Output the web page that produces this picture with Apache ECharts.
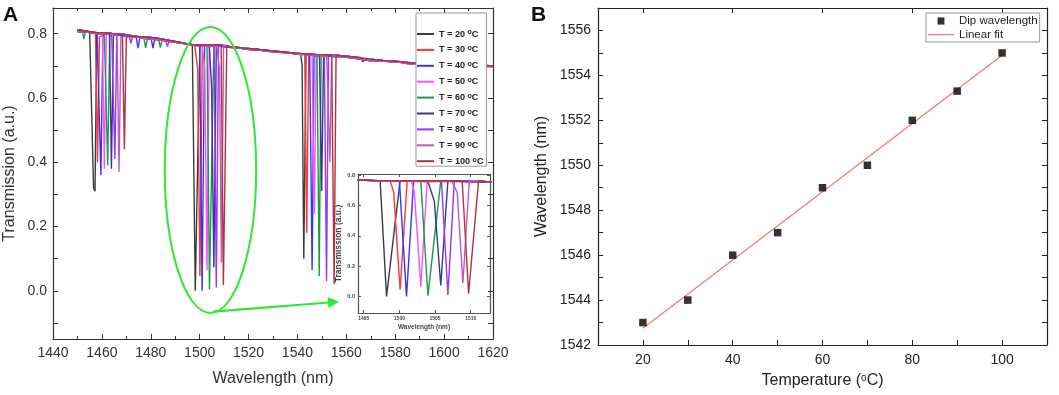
<!DOCTYPE html>
<html><head><meta charset="utf-8">
<script src="https://cdn.jsdelivr.net/npm/echarts@6/dist/echarts.min.js"></script>
<style>html,body{margin:0;padding:0;background:#fff}#c{width:1059px;height:395px}</style>
</head><body><div id="c"></div>
<script>
// ---------------- DATA ----------------
const temps = [20, 30, 40, 50, 60, 70, 80, 90, 100];

// Baseline of the transmission spectra [wavelength nm, transmission]
const baselineA = [[1450,0.812],[1452,0.810],[1455,0.806],[1458,0.803],[1461,0.803],[1464,0.801],[1467,0.800],[1470,0.797],[1473,0.793],[1476,0.790],[1479,0.789],[1482,0.787],[1485,0.783],[1488,0.778],[1491,0.774],[1494,0.770],[1497,0.766],[1500,0.764],[1503,0.766],[1506,0.765],[1509,0.764],[1512,0.760],[1515,0.758],[1518,0.755],[1521,0.753],[1524,0.751],[1527,0.749],[1530,0.746],[1533,0.744],[1536,0.742],[1539,0.739],[1542,0.738],[1545,0.737],[1548,0.735],[1551,0.734],[1554,0.733],[1557,0.732],[1560,0.730],[1563,0.728],[1566,0.724],[1569,0.721],[1572,0.719],[1575,0.717],[1578,0.716],[1581,0.714],[1584,0.711],[1587,0.709],[1590,0.707],[1593,0.706],[1596,0.705],[1599,0.705],[1602,0.704],[1605,0.703],[1608,0.703],[1611,0.702],[1614,0.702],[1617,0.701],[1620,0.700]];
const baselineB = [[1450,0.806],[1453,0.805],[1456,0.803],[1459,0.800],[1462,0.800],[1465,0.797],[1468,0.794],[1471,0.792],[1474,0.790],[1477,0.786],[1480,0.783],[1483,0.781],[1486,0.778],[1489,0.775],[1492,0.771],[1495,0.768],[1498,0.763],[1501,0.762],[1504,0.760],[1507,0.762],[1510,0.759],[1513,0.757],[1516,0.755],[1519,0.752],[1522,0.749],[1525,0.748],[1528,0.745],[1531,0.743],[1534,0.741],[1537,0.740],[1540,0.736],[1543,0.735],[1546,0.733],[1549,0.731],[1552,0.731],[1555,0.729],[1558,0.728],[1561,0.726],[1564,0.723],[1567,0.719],[1570,0.716],[1573,0.716],[1576,0.714],[1579,0.712],[1582,0.711],[1585,0.707],[1588,0.705],[1591,0.704],[1594,0.702],[1597,0.703],[1600,0.701],[1603,0.700],[1606,0.700],[1609,0.699],[1612,0.699],[1615,0.698],[1618,0.698],[1620,0.698]];

// Dips of each temperature: groups of [wavelength, transmission]
const dipsT20  = [[[1455.4,0.800],[1456.6,0.320],[1457.2,0.310],[1457.9,0.790]], [[1497.3,0.765],[1498.2,0.000],[1500.1,0.765]], [[1541.3,0.738],[1541.9,0.700],[1542.6,0.100],[1543.5,0.736]], [[1566.0,0.726],[1566.8,0.712],[1567.6,0.724]]];
const dipsT30  = [[[1457.4,0.800],[1458.2,0.400],[1459.0,0.790]], [[1498.7,0.765],[1499.2,0.690],[1500.1,0.045],[1501.1,0.765]], [[1543.0,0.737],[1543.8,0.180],[1544.6,0.736]]];
const dipsT40  = [[[1458.8,0.800],[1459.6,0.360],[1460.4,0.790]], [[1474.0,0.790],[1474.8,0.755],[1475.6,0.789]], [[1480.1,0.788],[1480.9,0.755],[1481.7,0.787]], [[1500.1,0.765],[1501.0,0.000],[1502.0,0.765]], [[1545.2,0.736],[1546.0,0.065],[1546.8,0.735]]];
const dipsT50  = [[[1460.2,0.800],[1461.0,0.380],[1461.8,0.790]], [[1501.7,0.765],[1502.1,0.690],[1503.0,0.065],[1503.9,0.765]], [[1546.1,0.736],[1546.9,0.240],[1547.7,0.735]]];
const dipsT60  = [[[1452.0,0.810],[1452.6,0.783],[1453.3,0.808]], [[1461.6,0.800],[1462.4,0.390],[1463.2,0.790]], [[1477.1,0.789],[1477.9,0.756],[1478.7,0.788]], [[1483.1,0.786],[1483.9,0.757],[1484.7,0.784]], [[1503.1,0.765],[1504.0,0.005],[1505.8,0.765]], [[1548.1,0.735],[1548.9,0.045],[1549.7,0.735]]];
const dipsT70  = [[[1463.1,0.800],[1463.9,0.380],[1464.7,0.790]], [[1504.1,0.765],[1504.9,0.630],[1505.8,0.073],[1506.8,0.765]], [[1549.1,0.735],[1549.9,0.310],[1550.7,0.734]]];
const dipsT80  = [[[1464.5,0.800],[1465.3,0.410],[1466.1,0.790]], [[1471.2,0.795],[1471.9,0.770],[1472.6,0.793]], [[1486.0,0.781],[1486.8,0.760],[1487.6,0.780]], [[1505.9,0.765],[1506.8,0.010],[1507.7,0.765]], [[1551.1,0.734],[1551.9,0.030],[1552.7,0.734]]];
const dipsT90  = [[[1466.2,0.800],[1467.0,0.370],[1467.8,0.790]], [[1507.3,0.765],[1508.1,0.690],[1508.9,0.088],[1509.8,0.765]], [[1552.5,0.734],[1553.3,0.400],[1554.0,0.733]]];
const dipsT100 = [[[1468.4,0.800],[1469.2,0.440],[1470.0,0.790]], [[1508.8,0.765],[1509.7,0.018],[1511.1,0.765]], [[1554.2,0.733],[1555.0,0.020],[1555.8,0.733]]];

// Panel B
const tempB = [20, 30, 40, 50, 60, 70, 80, 90, 100];
const dipWavelength = [1543, 1544, 1546, 1547, 1549, 1550, 1552, 1553.3, 1555];
const fitTemp = [20, 100];
const fitWavelength = [1542.75, 1554.9];

// Tick values
const yTickA = [-0.1, 0, 0.1, 0.2, 0.3, 0.4, 0.5, 0.6, 0.7, 0.8];
const yLabelA = [0, 0.2, 0.4, 0.6, 0.8];
const xLabelInset = [1495, 1500, 1505, 1510];
const yLabelInset = [0, 0.2, 0.4, 0.6, 0.8];
const xLabelB = [20, 40, 60, 80, 100];
const xTickB = [20, 30, 40, 50, 60, 70, 80, 90, 100];
const yLabelB = [1542, 1544, 1546, 1548, 1550, 1552, 1554, 1556];
const yTickB = [1542, 1543, 1544, 1545, 1546, 1547, 1548, 1549, 1550, 1551, 1552, 1553, 1554, 1555, 1556, 1557];

// Annotation (green ellipse + arrow) in data units of panel A
const ellipseCenter = [1504.4, 0.376];
const ellipseRadii = [18.7, 0.445];
const arrowFrom = [1505.5, -0.065];
const arrowTo = [1557.0, -0.034];

// ---------------- STYLE ----------------
const colors = ['#3c3c3c', '#ff3434', '#3434ff', '#ff4dff', '#1a9a4a', '#38388e', '#9b32ff', '#c058c0', '#b2323e'];
const font = 'Liberation Sans, Arial, Helvetica, sans-serif';
const allDips = [dipsT20, dipsT30, dipsT40, dipsT50, dipsT60, dipsT70, dipsT80, dipsT90, dipsT100];

function buildSpectrum(baseline, groups) {
  const ranges = groups.map(g => [g[0][0], g[g.length - 1][0]]);
  const pts = baseline.filter(p => !ranges.some(r => p[0] >= r[0] && p[0] <= r[1])).map(p => p.slice());
  groups.forEach(g => g.forEach(p => pts.push(p.slice())));
  pts.sort((a, b) => a[0] - b[0]);
  return pts;
}
const names = temps.map(t => 'T = ' + t + ' °C');
const spectra = temps.map((t, i) => buildSpectrum(i % 2 === 0 ? baselineA : baselineB, allDips[i]));

const plain = v => String(v);
const f1 = v => Number(v).toFixed(1);

function axisBase(opts) {
  const lineColor = opts.lineColor || '#222';
  return {
    type: 'value', gridIndex: opts.grid, position: opts.position, min: opts.min, max: opts.max,
    interval: opts.interval,
    splitLine: { show: false },
    axisLine: { show: true, onZero: false, lineStyle: { color: lineColor, width: 1.2 } },
    axisTick: Object.assign({ show: true, inside: true, length: opts.tickLen || 5, lineStyle: { color: lineColor, width: 1 } },
      opts.tickValues ? { customValues: opts.tickValues } : {}),
    minorTick: opts.minor ? { show: true, splitNumber: 2, length: 3, lineStyle: { color: lineColor } } : { show: false },
    axisLabel: opts.noLabel ? { show: false } : Object.assign({
      show: true, fontFamily: font, fontSize: opts.fontSize || 14, color: opts.labelColor || '#222',
      margin: opts.margin, fontWeight: opts.labelWeight || 'normal', formatter: opts.formatter || plain
    }, opts.labelValues ? { customValues: opts.labelValues } : {}),
    name: opts.name, nameLocation: 'middle', nameGap: opts.nameGap,
    nameTextStyle: opts.nameStyle
  };
}

// legend icons: horizontal line (A), square and line (B) inside fixed boxes
const iconLineA = 'path://M0,0 M17,10 M0,4 L17,4 L17,6 L0,6 Z';
const iconSquareB = 'path://M0,0 M26,8 M9.6,0.4 L16.4,0.4 L16.4,7.6 L9.6,7.6 Z';
const iconLineB = 'path://M0,0 M26,8 M0,3.4 L26,3.4 L26,4.6 L0,4.6 Z';

const option = {
  animation: false,
  backgroundColor: '#fff',
  title: [
    { text: 'A', left: 3, top: 5, padding: 0, textStyle: { fontFamily: font, fontSize: 21, fontWeight: 'bold', color: '#111' } },
    { text: 'B', left: 531, top: 5, padding: 0, textStyle: { fontFamily: font, fontSize: 21, fontWeight: 'bold', color: '#111' } }
  ],
  grid: [
    { left: 53, top: 8, width: 440, height: 331, containLabel: false },
    { left: 358, top: 174, width: 132, height: 139, containLabel: false, show: true, backgroundColor: '#fff', borderWidth: 0 },
    { left: 598, top: 8, width: 449, height: 337, containLabel: false }
  ],
  xAxis: [
    axisBase({ grid: 0, position: 'bottom', min: 1440, max: 1620, interval: 20, minor: true, lineColor: '#333', labelColor: '#333', margin: 7,
      name: 'Wavelength (nm)', nameGap: 32, nameStyle: { fontFamily: font, fontSize: 16, color: '#333' } }),
    axisBase({ grid: 0, position: 'top', min: 1440, max: 1620, interval: 20, minor: true, lineColor: '#333', noLabel: true }),
    axisBase({ grid: 1, position: 'bottom', min: 1494.2, max: 1512.7, tickValues: xLabelInset, labelValues: xLabelInset, tickLen: 3, fontSize: 5, labelWeight: 'bold', labelColor: '#444', lineColor: '#555', margin: 3,
      name: 'Wavelength (nm)', nameGap: 11, nameStyle: { fontFamily: font, fontSize: 6.5, fontWeight: 'bold', color: '#444' } }),
    axisBase({ grid: 1, position: 'top', min: 1494.2, max: 1512.7, tickValues: xLabelInset, tickLen: 3, lineColor: '#555', noLabel: true }),
    axisBase({ grid: 2, position: 'bottom', min: 10, max: 110, tickValues: xTickB, labelValues: xLabelB, margin: 8,
      name: 'Temperature ({s|o}C)', nameGap: 28, nameStyle: { fontFamily: font, fontSize: 16, color: '#222', rich: { s: { fontFamily: font, fontSize: 10, verticalAlign: 'top', color: '#222' } } } }),
    axisBase({ grid: 2, position: 'top', min: 10, max: 110, tickValues: xLabelB, noLabel: true })
  ],
  yAxis: [
    axisBase({ grid: 0, position: 'left', min: -0.15, max: 0.88, tickValues: yTickA, labelValues: yLabelA, formatter: f1, lineColor: '#333', labelColor: '#333', margin: 6,
      name: 'Transmission (a.u.)', nameGap: 35, nameStyle: { fontFamily: font, fontSize: 16, color: '#333' } }),
    axisBase({ grid: 0, position: 'right', min: -0.15, max: 0.88, tickValues: yTickA, lineColor: '#333', noLabel: true }),
    axisBase({ grid: 1, position: 'left', min: -0.11, max: 0.81, tickValues: yLabelInset, labelValues: yLabelInset, formatter: f1, tickLen: 3, fontSize: 5.5, labelWeight: 'bold', labelColor: '#444', lineColor: '#555', margin: 3,
      name: 'Transmission (a.u.)', nameGap: 10, nameStyle: { fontFamily: font, fontSize: 8.5, fontWeight: 'bold', color: '#444' } }),
    axisBase({ grid: 1, position: 'right', min: -0.11, max: 0.81, tickValues: yLabelInset, tickLen: 3, lineColor: '#555', noLabel: true }),
    axisBase({ grid: 2, position: 'left', min: 1542, max: 1557, tickValues: yTickB, labelValues: yLabelB, margin: 7,
      name: 'Wavelength (nm)', nameGap: 48, nameStyle: { fontFamily: font, fontSize: 16, color: '#222' } }),
    axisBase({ grid: 2, position: 'right', min: 1542, max: 1557, tickValues: yTickB, noLabel: true })
  ],
  legend: [
    {
      data: names.map(n => ({ name: n, icon: iconLineA })), orient: 'vertical', left: 416, top: 13, itemWidth: 17, itemHeight: 10, itemGap: 5.9,
      padding: [16, 3, 0, 1], backgroundColor: '#fff', borderColor: '#999', borderWidth: 1, borderRadius: 0,
      formatter: n => n.replace('°', '{s|o}'),
      textStyle: { fontFamily: font, fontSize: 9.1, fontWeight: 'bold', color: '#222', lineHeight: 10,
        rich: { s: { fontFamily: font, fontSize: 7, fontWeight: 'bold', verticalAlign: 'top', color: '#222' } } }
    },
    {
      data: [{ name: 'Dip wavelength', icon: iconSquareB }, { name: 'Linear fit', icon: iconLineB }], orient: 'vertical', left: 926, top: 13, itemWidth: 26, itemHeight: 8, itemGap: 1.6,
      padding: [2, 2, 1.4, 2], backgroundColor: '#fff', borderColor: '#999', borderWidth: 1, borderRadius: 0,
      textStyle: { fontFamily: font, fontSize: 11.5, color: '#222', lineHeight: 12 }
    }
  ],
  series: []
};

spectra.forEach((d, i) => {
  option.series.push({ name: names[i], type: 'line', xAxisIndex: 0, yAxisIndex: 0, data: d, symbol: 'none', showSymbol: false,
    lineStyle: { color: colors[i], width: 1.4 }, itemStyle: { color: colors[i] }, z: 2 });
});
spectra.forEach((d, i) => {
  option.series.push({ name: names[i], type: 'line', xAxisIndex: 2, yAxisIndex: 2, data: d, symbol: 'none', showSymbol: false,
    lineStyle: { color: colors[i], width: 1.4 }, itemStyle: { color: colors[i] }, clip: true, z: 6 });
});
option.series.push({ name: 'Dip wavelength', type: 'scatter', xAxisIndex: 4, yAxisIndex: 4,
  data: tempB.map((t, i) => [t, dipWavelength[i]]), symbol: 'rect', symbolSize: 7.5, itemStyle: { color: '#000' }, z: 4 });
option.series.push({ name: 'Linear fit', type: 'line', xAxisIndex: 4, yAxisIndex: 4,
  data: fitTemp.map((t, i) => [t, fitWavelength[i]]), symbol: 'none', showSymbol: false,
  lineStyle: { color: '#f37575', width: 1.2 }, itemStyle: { color: '#f37575' }, z: 3 });

const chart = echarts.init(document.getElementById('c'), null, { renderer: 'canvas' });
chart.setOption(option);

// annotation placed from data coordinates
const toPx = p => chart.convertToPixel({ xAxisIndex: 0, yAxisIndex: 0 }, p);
const c = toPx(ellipseCenter);
const e = toPx([ellipseCenter[0] + ellipseRadii[0], ellipseCenter[1] + ellipseRadii[1]]);
const rx = e[0] - c[0], ry = c[1] - e[1];
const a0 = toPx(arrowFrom), a1 = toPx(arrowTo);
const dx = a1[0] - a0[0], dy = a1[1] - a0[1], L = Math.hypot(dx, dy);
const ux = dx / L, uy = dy / L, head = 11, hw = 5.5;
const base = [a1[0] - ux * head, a1[1] - uy * head];
const green = '#33e633';
const graphics = [
  { type: 'line', shape: { x1: a0[0], y1: a0[1], x2: base[0] + ux * 1, y2: base[1] + uy * 1 }, style: { stroke: green, lineWidth: 2.2 }, z: 100 },
  { type: 'polygon', shape: { points: [a1, [base[0] - uy * hw, base[1] + ux * hw], [base[0] + uy * hw, base[1] - ux * hw]] }, style: { fill: green }, z: 100 }
];
try {
  chart.setOption({ graphic: [{ type: 'ellipse', shape: { cx: c[0], cy: c[1], rx: rx, ry: ry }, style: { fill: 'none', stroke: green, lineWidth: 2 }, z: 100 }].concat(graphics) });
} catch (err) {
  chart.setOption({ graphic: [{ type: 'circle', x: c[0], y: c[1], scaleY: ry / rx, shape: { cx: 0, cy: 0, r: rx }, style: { fill: 'none', stroke: green, lineWidth: 2, strokeNoScale: true }, z: 100 }].concat(graphics) });
}
</script>
</body></html>
